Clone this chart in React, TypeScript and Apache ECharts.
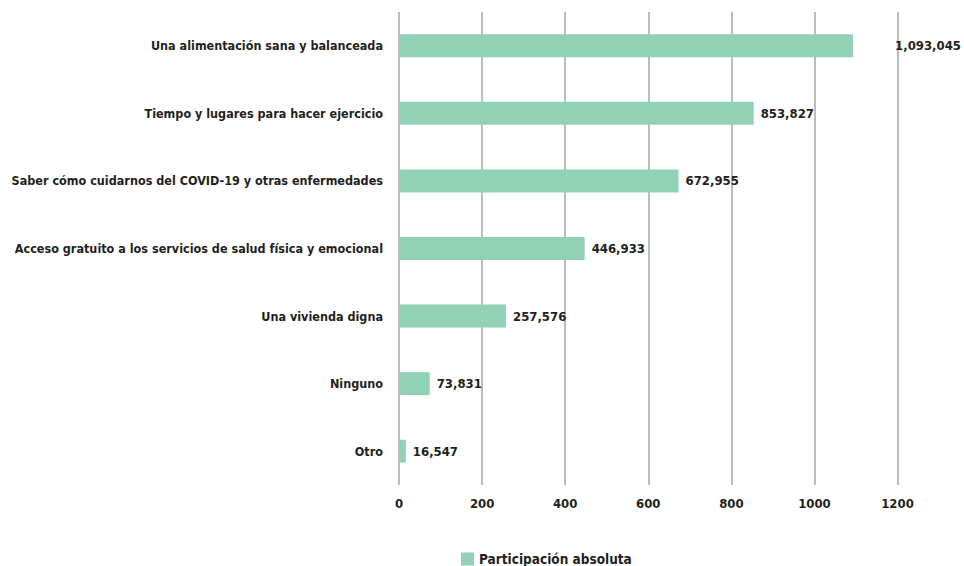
import React, { useEffect, useRef } from "react";
import * as echarts from "echarts";

const categories = [
  "Una alimentación sana y balanceada",
  "Tiempo y lugares para hacer ejercicio",
  "Saber cómo cuidarnos del COVID-19 y otras enfermedades",
  "Acceso gratuito a los servicios de salud física y emocional",
  "Una vivienda digna",
  "Ninguno",
  "Otro",
];
const values = [1093045, 853827, 672955, 446933, 257576, 73831, 16547];
const seriesName = "Participación absoluta";
const axisMax = 1200000;
const axisInterval = 200000;

const FONT = "'Liberation Sans Narrow', 'DejaVu Sans Condensed', 'Roboto Condensed', sans-serif";
const TEXT = "#231f20";
const BAR = "#91d1b5";

export default function App() {
  const ref = useRef<HTMLDivElement>(null);
  useEffect(() => {
    if (!ref.current) return;
    const chart = echarts.init(ref.current, null, { renderer: "svg" });
    const fmt = (v: number) => v.toLocaleString("en-US");
    chart.setOption({
      animation: false,
      textStyle: { fontFamily: FONT },
      grid: {
        left: 399,
        right: 66.5,
        top: 12,
        height: 473,
        containLabel: false,
        outerBoundsMode: "none",
      },
      legend: {
        left: 456,
        top: 547,
        itemWidth: 13,
        itemHeight: 13,
        itemGap: 8,
        icon: "rect",
        textStyle: { fontFamily: FONT, fontSize: 13.5, fontWeight: "bold", color: TEXT },
        data: [seriesName],
      },
      xAxis: {
        type: "value",
        min: 0,
        max: axisMax,
        interval: axisInterval,
        axisLine: { show: false },
        axisTick: { show: false },
        splitLine: { show: true, lineStyle: { color: "#a6a6a8", width: 1.5 } },
        axisLabel: {
          formatter: (v: number) => String(v / 1000),
          fontFamily: FONT,
          fontSize: 13,
          fontWeight: "bold",
          color: TEXT,
          margin: 12,
        },
      },
      yAxis: {
        type: "category",
        data: categories,
        inverse: true,
        axisLine: { show: false },
        axisTick: { show: false },
        axisLabel: {
          fontFamily: FONT,
          fontSize: 12.5,
          fontWeight: "bold",
          color: TEXT,
          margin: 16,
        },
      },
      series: [
        {
          name: seriesName,
          type: "bar",
          barWidth: "34%",
          itemStyle: { color: BAR },
          data: values.map((v, i) => ({
            value: v,
            label: i === 0 ? { distance: 42 } : undefined,
          })),
          label: {
            show: true,
            position: "right",
            distance: 7,
            formatter: (p: any) => fmt(p.value),
            fontFamily: FONT,
            fontSize: 13,
            fontWeight: "bold",
            color: TEXT,
          },
        },
      ],
    });
    return () => chart.dispose();
  }, []);
  return (
    <div
      ref={ref}
      style={{ position: "fixed", left: 0, top: 0, width: 964, height: 566, background: "#fff" }}
    />
  );
}
